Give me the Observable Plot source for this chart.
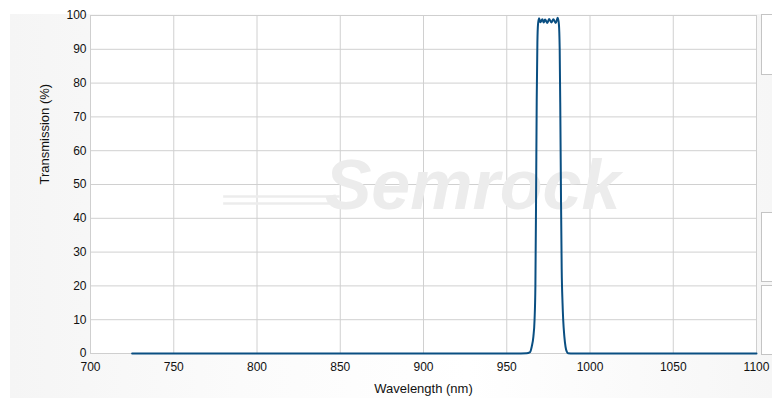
<!DOCTYPE html>
<html>
<head>
<meta charset="utf-8">
<script src="https://cdn.jsdelivr.net/npm/d3@7"></script>
<script src="https://cdn.jsdelivr.net/npm/@observablehq/plot@0.6"></script>
<style>
  html, body { margin: 0; padding: 0; background: #fff; }
  #wrap { position: relative; width: 772px; height: 404px; overflow: hidden;
    font-family: "Liberation Sans", Arial, sans-serif; }
  #bg { position: absolute; left: 10px; top: 14px; width: 762px; height: 384px;
    background: linear-gradient(90deg, #f5f5f5 0%, #fbfbfb 30%, #ffffff 60%, #f6f6f6 100%); }
  #chart { position: absolute; left: 0; top: 0; }
  .panel { position: absolute; left: 761px; width: 20px; border: 1px solid #c4c4c4; background: #fff; box-sizing: border-box; }
</style>
</head>
<body>
<div id="wrap">
  <div id="bg"></div>
  <div class="panel" style="top:14px;height:61px;"></div>
  <div class="panel" style="top:212px;height:70px;"></div>
  <div class="panel" style="top:285px;height:70px;"></div>
  <div id="chart"></div>
</div>
<script>
const wavelength = [725, 955, 962, 963.8, 965, 966, 966.7, 967.2, 967.6, 968, 968.4, 968.8,
  969.4, 970.2, 971.4, 972.2, 973.0, 974.4, 975.4, 976.8, 978.0, 979.4, 980.6, 981.3,
  981.8, 982.2, 982.6, 983.0, 983.5, 983.9, 984.6, 985.3, 986.0, 986.8, 990, 1100];
const transmission = [0, 0, 0.05, 0.3, 2, 5, 10, 20, 45, 75, 92, 97.5,
  99.2, 98.0, 98.9, 97.9, 98.8, 97.8, 99.0, 97.9, 98.9, 97.8, 99.3, 97.5,
  90, 70, 45, 25, 15, 10, 5, 2, 0.6, 0.1, 0, 0];
const xTicks = [700, 750, 800, 850, 900, 950, 1000, 1050, 1100];
const yTicks = [0, 10, 20, 30, 40, 50, 60, 70, 80, 90, 100];
const xTitle = ["Wavelength (nm)"];
const yTitle = ["Transmission (%)"];
const watermark = ["Semrock"];

const data = wavelength.map((w, i) => ({w, t: transmission[i]}));

const chart = Plot.plot({
  width: 772,
  height: 404,
  marginLeft: 90,
  marginRight: 16,
  marginTop: 15,
  marginBottom: 51,
  style: {fontFamily: "'Liberation Sans', Arial, sans-serif", fontSize: "12px", background: "transparent", color: "#111"},
  x: {domain: [700, 1100]},
  y: {domain: [0, 100]},
  marks: [
    Plot.frame({fill: "white", stroke: "none"}),
    Plot.gridX(xTicks, {stroke: "#d0d0d0", strokeOpacity: 1}),
    Plot.gridY(yTicks, {stroke: "#d0d0d0", strokeOpacity: 1}),
    Plot.frame({stroke: "#cfcfcf"}),
    Plot.ruleY([0], {x1: 780, x2: 850, dy: -150, stroke: "#ececec", strokeWidth: 2.5}),
    Plot.ruleY([0], {x1: 780, x2: 850, dy: -157, stroke: "#ececec", strokeWidth: 2.5}),
    Plot.text(watermark, {frameAnchor: "middle", dx: 49, dy: 2, text: d => d,
      fontSize: 70, fontWeight: "bold", fontStyle: "italic", fill: "#ececec", letterSpacing: 6}),
    Plot.axisX({ticks: xTicks, tickSize: 0, tickPadding: 9, fontSize: 12, fill: "#111",
      tickFormat: d => String(d), label: null}),
    Plot.axisY({ticks: yTicks, tickSize: 0, tickPadding: 4, fontSize: 12, fill: "#111",
      tickFormat: d => String(d), label: null}),
    Plot.text(xTitle, {frameAnchor: "bottom", dy: 39, text: d => d, fontSize: 13, fill: "#111"}),
    Plot.text(yTitle, {frameAnchor: "left", dx: -46, rotate: -90, text: d => d, fontSize: 13, fill: "#111"}),
    Plot.line(data, {x: "w", y: "t", stroke: "#0a4f82", strokeWidth: 2, curve: "monotone-x"})
  ]
});
document.getElementById("chart").appendChild(chart);
</script>
</body>
</html>
